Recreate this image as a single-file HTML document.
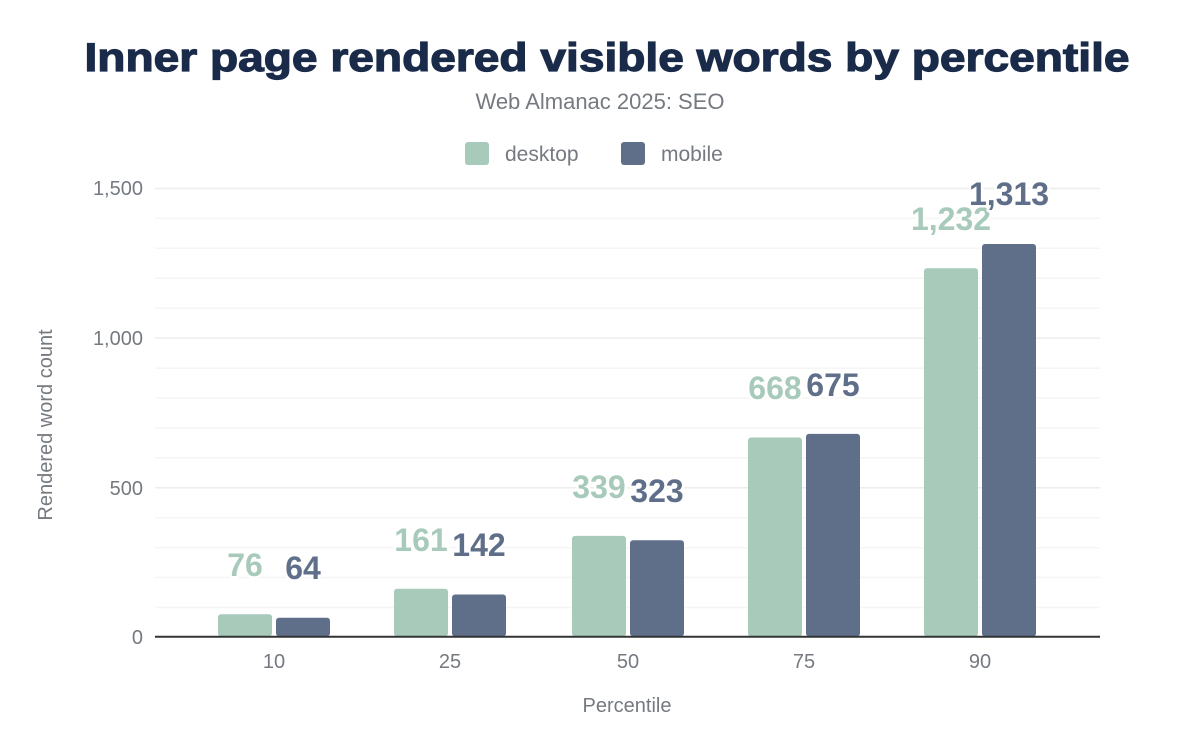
<!DOCTYPE html>
<html><head><meta charset="utf-8"><style>
html,body{margin:0;padding:0;background:#fff;}
svg{display:block;font-family:"Liberation Sans",Arial,sans-serif;}
.yl{font-size:20px;fill:#757a80;text-anchor:end;}
.xl{font-size:20px;fill:#757a80;text-anchor:middle;}
.lab{font-size:32px;font-weight:bold;text-anchor:middle;stroke:#fff;stroke-width:5px;paint-order:stroke;stroke-linejoin:round;}
</style></head><body>
<svg width="1200" height="742" viewBox="0 0 1200 742">
<rect width="1200" height="742" fill="#fff"/>
<text x="607" y="71" font-size="40" font-weight="900" fill="#1a2b4a" text-anchor="middle" textLength="1045" lengthAdjust="spacingAndGlyphs" stroke="#1a2b4a" stroke-width="1.2">Inner page rendered visible words by percentile</text>
<text x="600" y="109" font-size="22" fill="#757a80" text-anchor="middle">Web Almanac 2025: SEO</text>
<rect x="465" y="142" width="24" height="23" rx="3" fill="#a8cabb"/>
<text x="505" y="161" font-size="21" fill="#757a80">desktop</text>
<rect x="621" y="142" width="24" height="23" rx="3" fill="#5f6f8a"/>
<text x="661" y="161" font-size="21" fill="#757a80">mobile</text>
<g stroke="#f5f5f5" stroke-width="1.5">
<line x1="155" x2="1100" y1="188.5" y2="188.5" stroke="#ededed"/>
<line x1="155" x2="1100" y1="218.4" y2="218.4"/>
<line x1="155" x2="1100" y1="248.3" y2="248.3"/>
<line x1="155" x2="1100" y1="278.3" y2="278.3"/>
<line x1="155" x2="1100" y1="308.2" y2="308.2"/>
<line x1="155" x2="1100" y1="338.1" y2="338.1" stroke="#ededed"/>
<line x1="155" x2="1100" y1="368.1" y2="368.1"/>
<line x1="155" x2="1100" y1="398" y2="398"/>
<line x1="155" x2="1100" y1="427.9" y2="427.9"/>
<line x1="155" x2="1100" y1="457.8" y2="457.8"/>
<line x1="155" x2="1100" y1="487.8" y2="487.8" stroke="#ededed"/>
<line x1="155" x2="1100" y1="517.7" y2="517.7"/>
<line x1="155" x2="1100" y1="547.6" y2="547.6"/>
<line x1="155" x2="1100" y1="577.5" y2="577.5"/>
<line x1="155" x2="1100" y1="607.5" y2="607.5"/>
</g>
<text class="yl" x="143" y="195">1,500</text>
<text class="yl" x="143" y="345">1,000</text>
<text class="yl" x="143" y="495">500</text>
<text class="yl" x="143" y="644">0</text>
<g fill="#a8cabb">
<rect x="218" y="614.3" width="54" height="22" rx="3"/>
<rect x="394" y="588.8" width="54" height="47.5" rx="3"/>
<rect x="572" y="535.9" width="54" height="100.5" rx="3"/>
<rect x="748" y="437.5" width="54" height="199" rx="3"/>
<rect x="924" y="268.3" width="54" height="368" rx="3"/>
</g>
<g fill="#5f6f8a">
<rect x="276" y="617.8" width="54" height="18.5" rx="3"/>
<rect x="452" y="594.5" width="54" height="42" rx="3"/>
<rect x="630" y="540.3" width="54" height="96" rx="3"/>
<rect x="806" y="433.9" width="54" height="202.5" rx="3"/>
<rect x="982" y="244" width="54" height="392.5" rx="3"/>
</g>
<line x1="155" x2="1100" y1="636.8" y2="636.8" stroke="#333" stroke-width="2"/>
<text class="lab" x="245" y="576" fill="#a8cabb">76</text>
<text class="lab" x="421" y="551" fill="#a8cabb">161</text>
<text class="lab" x="599" y="498" fill="#a8cabb">339</text>
<text class="lab" x="775" y="399" fill="#a8cabb">668</text>
<text class="lab" x="951" y="230" fill="#a8cabb">1,232</text>
<text class="lab" x="303" y="579" fill="#5f6f8a">64</text>
<text class="lab" x="479" y="556" fill="#5f6f8a">142</text>
<text class="lab" x="657" y="502" fill="#5f6f8a">323</text>
<text class="lab" x="833" y="396" fill="#5f6f8a">675</text>
<text class="lab" x="1009" y="205" fill="#5f6f8a">1,313</text>
<text class="xl" x="274" y="668">10</text>
<text class="xl" x="450" y="668">25</text>
<text class="xl" x="628" y="668">50</text>
<text class="xl" x="804" y="668">75</text>
<text class="xl" x="980" y="668">90</text>
<text class="xl" x="627" y="712">Percentile</text>
<text class="xl" transform="translate(52,425) rotate(-90)">Rendered word count</text>
</svg>
</body></html>
